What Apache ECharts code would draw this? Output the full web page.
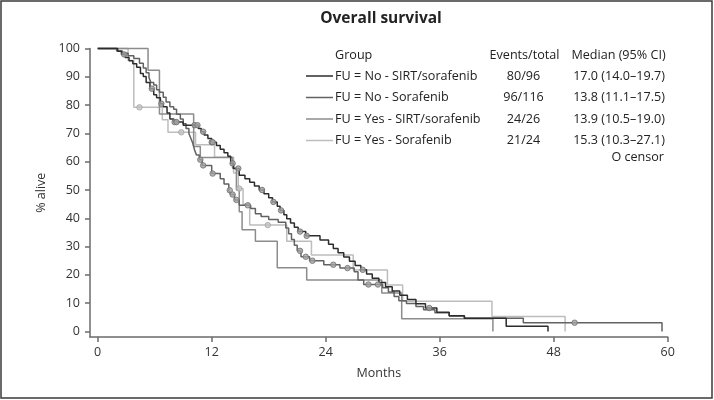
<!DOCTYPE html>
<html><head><meta charset="utf-8">
<script src="https://cdn.jsdelivr.net/npm/echarts@6/dist/echarts.min.js"></script>
<style>html,body{margin:0;padding:0;background:#fff}#c{width:714px;height:400px}</style>
</head><body><div id="c"></div>
<script>
// ---- data ----
const groupNames = ['FU = No - SIRT/sorafenib', 'FU = No - Sorafenib', 'FU = Yes - SIRT/sorafenib', 'FU = Yes - Sorafenib'];
const eventsTotal = ['80/96', '96/116', '24/26', '21/24'];
const medianCI = ['17.0 (14.0\u201319.7)', '13.8 (11.1\u201317.5)', '13.9 (10.5\u201319.0)', '15.3 (10.3\u201327.1)'];
const xTicks = [0, 12, 24, 36, 48, 60];
const yTicks = [0, 10, 20, 30, 40, 50, 60, 70, 80, 90, 100];

// Kaplan-Meier steps: time (months) and % alive after the step
const c1Time = [0, 2.1, 2.5, 2.9, 3.3, 3.7, 4.1, 4.5, 4.8, 5.1, 5.5, 5.9, 6.2, 6.6, 6.9, 7.3, 7.6, 8.0, 9.0, 10.6, 10.9, 11.2, 11.6, 12.0, 12.5, 12.9, 13.3, 13.7, 14.0, 14.3, 14.9, 15.5, 16.0, 16.5, 17.0, 17.5, 18.0, 18.4, 18.9, 19.2, 19.6, 19.9, 20.3, 20.7, 21.1, 21.9, 23.4, 24.3, 24.8, 25.3, 25.9, 26.5, 27.1, 27.7, 28.3, 28.9, 29.6, 30.3, 31.0, 31.8, 32.6, 33.5, 34.5, 35.7, 37.0, 38.6, 43.0, 47.4];
const c1Surv = [100, 99.0, 97.9, 96.8, 95.7, 94.6, 93.4, 91.2, 90.1, 88.0, 85.8, 83.7, 82.6, 80.5, 79.4, 77.2, 75.1, 74.0, 72.9, 71.7, 70.6, 69.4, 68.2, 66.9, 65.7, 64.4, 63.2, 61.9, 59.4, 57.6, 55.2, 54.0, 52.7, 51.4, 50.0, 48.7, 47.3, 45.8, 44.3, 42.8, 41.3, 39.8, 38.3, 36.8, 35.3, 33.8, 32.3, 30.8, 29.3, 27.8, 26.3, 24.8, 23.3, 21.8, 20.3, 18.8, 17.3, 15.8, 14.3, 12.8, 11.3, 9.8, 8.3, 6.8, 5.6, 4.7, 1.9, 0];
const c1Cens = [2.8, 5.7, 6.7, 8.1, 8.3, 10.2, 10.5, 11.1, 12.0, 12.1, 14.2, 14.8, 17.3, 18.5, 19.3, 21.3, 22.0, 27.9, 34.9];

const c2Time = [0, 2.0, 2.6, 3.2, 3.8, 4.4, 4.8, 5.1, 5.4, 5.6, 5.9, 6.2, 6.5, 6.9, 7.2, 7.6, 8.0, 8.3, 8.7, 9.0, 9.3, 9.6, 9.8, 10.0, 10.2, 10.4, 10.7, 11.0, 12.0, 12.9, 13.3, 13.8, 14.0, 14.4, 14.9, 16.1, 16.6, 17.2, 18.0, 19.0, 19.8, 20.1, 20.4, 20.7, 21.0, 21.4, 22.3, 23.8, 25.5, 27.0, 27.4, 28.0, 30.0, 30.6, 31.2, 31.7, 32.5, 33.5, 34.3, 35.5, 37.0, 38.6, 44.8, 59.4];
const c2Surv = [100, 99.1, 98.3, 97.4, 96.5, 94.8, 93.1, 91.4, 89.7, 88.0, 87.1, 85.4, 84.5, 82.8, 81.1, 79.4, 78.5, 76.8, 75.1, 73.4, 71.7, 70.0, 68.3, 66.6, 64.1, 62.4, 60.7, 58.7, 55.8, 54.0, 52.1, 49.9, 48.4, 46.5, 44.6, 43.5, 41.6, 40.6, 39.6, 38.6, 36.6, 34.5, 32.5, 30.5, 28.5, 26.4, 25.0, 23.6, 22.4, 21.1, 18.2, 16.6, 15.5, 14.0, 12.4, 10.9, 9.9, 8.8, 7.7, 6.6, 5.5, 4.7, 3.1, 0];
const c2Cens = [10.8, 11.1, 12.1, 13.9, 14.2, 14.6, 15.8, 21.3, 21.9, 22.6, 24.8, 26.3, 28.5, 29.5, 50.2];

const c3Time = [0, 5.3, 6.5, 10.1, 10.8, 14.2, 14.6, 14.9, 15.2, 16.6, 18.9, 22.0, 29.9, 32.0, 41.6];
const c3Surv = [100, 92.3, 76.9, 65.4, 61.5, 57.7, 50.0, 42.3, 36.0, 31.9, 22.5, 18.2, 13.6, 4.5, 0];
const c3Cens = [];

const c4Time = [0, 3.2, 3.8, 6.8, 7.4, 10.3, 12.3, 14.3, 14.8, 15.3, 16.0, 19.9, 22.5, 26.9, 30.5, 32.1, 41.5, 49.2];
const c4Surv = [100, 95.8, 79.2, 74.8, 70.4, 66.0, 61.6, 56.0, 50.5, 45.0, 37.6, 31.9, 27.0, 21.7, 16.4, 10.7, 5.3, 0];
const c4Cens = [4.4, 8.8, 14.9, 17.9];

// ---- styling ----
const lineColors = ['#2c2c2c', '#626262', '#8c8c8c', '#bdbdbd'];
const censFill = ['#a2a2a2', '#a2a2a2', '#a8a8a8', '#c2c2c2'];
const censBorder = ['#6a6a6a', '#707070', '#808080', '#a8a8a8'];
const FONT = '"Open Sans", "Noto Sans", sans-serif';

const curves = [
  [c1Time, c1Surv, c1Cens],
  [c2Time, c2Surv, c2Cens],
  [c3Time, c3Surv, c3Cens],
  [c4Time, c4Surv, c4Cens]
];

function survAt(times, surv, t) {
  let s = surv[0];
  for (let i = 0; i < times.length; i++) if (times[i] <= t) s = surv[i];
  return s;
}

const series = [];
curves.forEach((c, k) => {
  series.push({
    type: 'line', name: groupNames[k], step: 'end', showSymbol: false, clip: false,
    data: c[0].map((t, i) => [t, c[1][i]]),
    lineStyle: { color: lineColors[k], width: 1.5 }, z: 10 - k
  });
});
curves.forEach((c, k) => {
  series.push({
    type: 'scatter', symbol: 'circle', symbolSize: 5.5, clip: false,
    data: c[2].map(t => [t, survAt(c[0], c[1], t)]),
    itemStyle: { color: censFill[k], borderColor: censBorder[k], borderWidth: 1 }, z: 20
  });
});

// legend table as graphic
const rowY = [76, 97.5, 119, 140.5];
const LF = '12.6px ' + FONT;
const graphic = [
  { type: 'rect', shape: { x: 1, y: 1, width: 711, height: 397 }, style: { fill: 'none', stroke: '#3a3a3a', lineWidth: 1.5 }, silent: true },
  { type: 'text', x: 381, y: 19, style: { text: 'Overall survival', font: 'bold 15.5px ' + FONT, fill: '#222', textAlign: 'center', textVerticalAlign: 'middle' } },
  { type: 'text', x: 335, y: 55, style: { text: 'Group', font: LF, fill: '#222', textAlign: 'left', textVerticalAlign: 'middle' } },
  { type: 'text', x: 524.5, y: 55, style: { text: 'Events/total', font: LF, fill: '#222', textAlign: 'center', textVerticalAlign: 'middle' } },
  { type: 'text', x: 618.5, y: 55, style: { text: 'Median (95% CI)', font: LF, fill: '#222', textAlign: 'center', textVerticalAlign: 'middle' } },
  { type: 'text', x: 664, y: 157, style: { text: 'O censor', font: LF, fill: '#222', textAlign: 'right', textVerticalAlign: 'middle' } }
];
groupNames.forEach((g, k) => {
  graphic.push({ type: 'line', shape: { x1: 306, y1: rowY[k], x2: 333, y2: rowY[k] }, style: { stroke: lineColors[k], lineWidth: 1.5 } });
  graphic.push({ type: 'text', x: 335, y: rowY[k], style: { text: g, font: LF, fill: '#222', textAlign: 'left', textVerticalAlign: 'middle' } });
  graphic.push({ type: 'text', x: 523.5, y: rowY[k], style: { text: eventsTotal[k], font: LF, fill: '#222', textAlign: 'center', textVerticalAlign: 'middle' } });
  graphic.push({ type: 'text', x: 619, y: rowY[k], style: { text: medianCI[k], font: LF, fill: '#222', textAlign: 'center', textVerticalAlign: 'middle' } });
});

const axisCol = '#6b6b6b';
const chart = echarts.init(document.getElementById('c'), null, { renderer: 'canvas' });
chart.setOption({
  animation: false,
  backgroundColor: '#fff',
  grid: { left: 90, top: 48.5, width: 577.7, height: 288.5, containLabel: false },
  xAxis: {
    type: 'value', min: -0.81, max: 60,
    axisLine: { show: true, onZero: false, lineStyle: { color: axisCol, width: 1.5 } },
    axisTick: { show: true, customValues: xTicks, length: 5, lineStyle: { color: axisCol, width: 1.5 } },
    axisLabel: { customValues: xTicks, color: '#333', fontSize: 12.5, fontFamily: FONT, margin: 9 },
    splitLine: { show: false },
    name: 'Months', nameLocation: 'middle', nameGap: 30,
    nameTextStyle: { color: '#333', fontSize: 12.5, fontFamily: FONT }
  },
  yAxis: {
    type: 'value', min: -1.94, max: 100,
    axisLine: { show: true, onZero: false, lineStyle: { color: axisCol, width: 1.5 } },
    axisTick: { show: true, customValues: yTicks, length: 5, lineStyle: { color: axisCol, width: 1.5 } },
    axisLabel: { customValues: yTicks, color: '#333', fontSize: 12.5, fontFamily: FONT, margin: 10 },
    splitLine: { show: false },
    name: '% alive', nameLocation: 'middle', nameGap: 36, nameRotate: 90,
    nameTextStyle: { color: '#333', fontSize: 12.5, fontFamily: FONT }
  },
  series: series,
  graphic: graphic
});
</script></body></html>
